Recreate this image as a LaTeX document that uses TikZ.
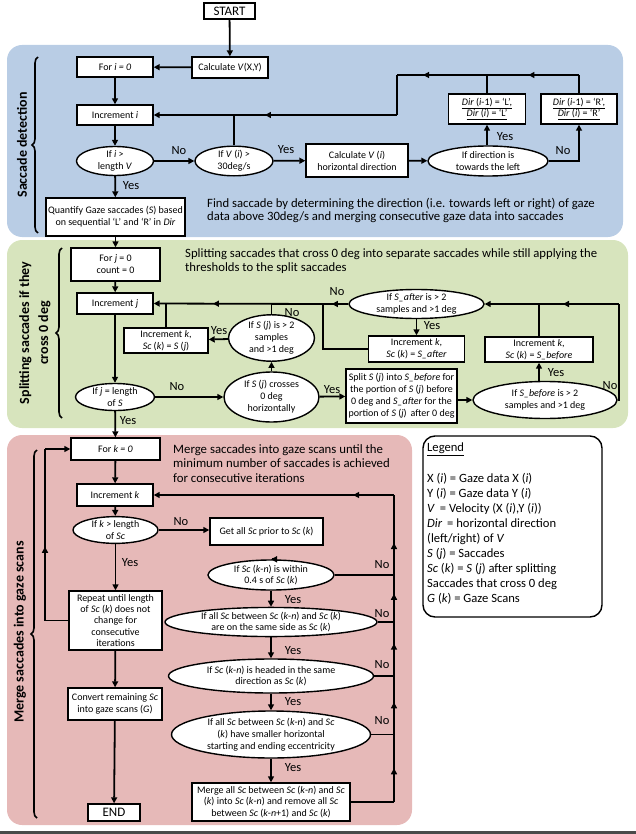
\documentclass[tikz,border=0pt]{standalone}
\usepackage{fontspec}
\setmainfont{Carlito}
\usetikzlibrary{shapes.geometric,arrows.meta,decorations.markings,decorations.pathreplacing}
\definecolor{bluebg}{HTML}{B9CDE5}
\definecolor{greenbg}{HTML}{D7E4BD}
\definecolor{pinkbg}{HTML}{E6B9B8}
\definecolor{botline}{HTML}{4A4A4A}
\newcommand\boxfont{\fontsize{10}{11.9}\selectfont}
\newcommand\lblfont{\fontsize{12.5}{14}\selectfont}
\newcommand\titlefont{\fontsize{12.7}{13.8}\selectfont}
\newcommand\ptitlefont{\fontsize{12.8}{14.6}\selectfont}
\newcommand\legfont{\fontsize{12.6}{15.1}\selectfont}
\newcommand\sidefont{\fontsize{14}{19}\selectfont\bfseries}
\newcommand\bigfont{\fontsize{13}{15}\selectfont}
\newcommand\iv[1]{\textit{#1}}
\begin{document}
\begin{tikzpicture}[x=1pt,y=-1pt,
  rbox/.style={draw, fill=white, line width=1.4pt, inner sep=0pt, align=center, font=\boxfont},
  rell/.style={ellipse, draw, fill=white, line width=1.4pt, inner sep=0pt, align=center, font=\boxfont},
  ln/.style={line width=1.8pt},
  arr/.style={line width=1.8pt, -{Triangle[length=6pt,width=6pt]}},
  midarrow/.style={postaction={decorate}, decoration={markings, mark=at position #1 with {\arrow{Triangle[length=6pt,width=6pt]}}}},
  lbl/.style={font=\lblfont, inner sep=0pt},
  ttl/.style={inner sep=0pt, align=left, anchor=west},
  brc/.style={line width=1.6pt, decorate, decoration={brace, amplitude=6pt}},
  sidelbl/.style={font=\sidefont, rotate=90, align=center, inner sep=0pt},
]
\useasboundingbox (0,0) rectangle (636,834);
% backgrounds
\fill[bluebg, rounded corners=15pt] (7,45) rectangle (623,237);
\fill[greenbg, rounded corners=15pt] (7,240) rectangle (628,428);
\fill[pinkbg, rounded corners=15pt] (7,435) rectangle (412,825);
\fill[botline] (0,831) rectangle (636,834);

% ---------------- Saccade detection ----------------
\node[rbox, font=\bigfont, minimum width=51, minimum height=16] (start) at (229.5,11) {START};
\node[rbox, minimum width=76, minimum height=21] (calcV) at (230,67.5) {Calculate \iv{V}(X,Y)};
\node[rbox, minimum width=76, minimum height=20] (fori) at (115,67) {For \iv{i = 0}};
\node[rbox, minimum width=76, minimum height=20] (inci) at (115,115) {Increment \iv{i}};
\node[rell, minimum width=77, minimum height=28] (ilen) at (115,161) {If \iv{i} >\\length \iv{V}};
\node[rell, minimum width=78, minimum height=28] (vi) at (234,161) {If \iv{V} (\iv{i}) >\\30deg/s};
\node[rbox, minimum width=102, minimum height=33] (calcdir) at (357,160.5) {Calculate \iv{V} (\iv{i})\\horizontal direction};
\node[rell, minimum width=120, minimum height=30] (left) at (488,161) {If direction is\\towards the left};
\node[rbox, minimum width=77, minimum height=30] (dirL) at (487,109) {\underline{\iv{Dir} (\iv{i}-1) = ‘L’,}\\\underline{\iv{Dir} (\iv{i}) = ‘L’}};
\node[rbox, minimum width=76, minimum height=30] (dirR) at (579,109) {\underline{\iv{Dir} (\iv{i}-1) = ‘R’,}\\\underline{\iv{Dir} (\iv{i}) = ‘R’}};
\node[rbox, minimum width=139, minimum height=38] (quant) at (115.5,217) {Quantify Gaze saccades (\iv{S}) based\\on sequential ‘L’ and ‘R’ in \iv{Dir}};
\node[ttl, font=\titlefont] (t1) at (207,210.5) {Find saccade by determining the direction (i.e. towards left or right) of gaze\\data above 30deg/s and merging consecutive gaze data into saccades};

\draw[arr] (start) -- (calcV);
\draw[arr] (calcV) -- (fori);
\draw[arr] (fori) -- (inci);
\draw[arr] (inci) -- (ilen);
\draw[arr] (ilen) -- (vi);
\draw[arr] (ilen) -- (quant);
\draw[arr] (vi) -- (calcdir);
\draw[arr] (calcdir) -- (left);
\draw[arr] (left.north -| dirL.south) -- (dirL.south);
\coordinate (b0) at (579,161);
\draw[arr] (left.east) -- (b0) -- (dirR.south);
\coordinate (b1) at (579,75);
\coordinate (b2) at (dirL.north |- b1);
\coordinate (b3) at (397,75);
\coordinate (b4) at (397,115);
\coordinate (b5) at (vi.north |- inci.east);
\draw[ln] (dirR.north) -- (b1);
\draw[ln, midarrow=0.55] (b1) -- (b2);
\draw[ln] (dirL.north) -- (b2);
\draw[ln, midarrow=0.71] (b2) -- (b3);
\draw[ln] (b3) -- (b4);
\draw[ln, midarrow=0.81] (b4) -- (b5);
\draw[arr] (b5) -- (inci.east);
\draw[ln] (vi.north) -- (b5);
\node[lbl] (n1) at (179,151) {No};
\node[lbl] (y1) at (131,186) {Yes};
\node[lbl] (y2) at (286,150) {Yes};
\node[lbl] (y3) at (505,137) {Yes};
\node[lbl] (n2) at (563,151) {No};
\draw[brc] (38,233) -- (38,57);
\node[sidelbl] (s1) at (22,145) {Saccade detection};

% ---------------- Splitting ----------------
\node[rbox, minimum width=89, minimum height=33] (forj) at (115.5,264.5) {For \iv{j} = 0\\count = 0};
\node[rbox, minimum width=76, minimum height=21] (incj) at (115,303.5) {Increment \iv{j}};
\node[rbox, minimum width=84, minimum height=25] (incSj) at (166,340.5) {Increment \iv{k},\\\iv{Sc} (\iv{k}) = \iv{S} (\iv{j})};
\node[rell, minimum width=86, minimum height=40] (sjgt) at (271.5,338) {If \iv{S} (\iv{j}) is > 2\\samples\\and >1 deg};
\node[rell, minimum width=79, minimum height=27] (jlen) at (115,397) {If \iv{j} = length\\of \iv{S}};
\node[rell, minimum width=95, minimum height=50] (cross) at (271.5,397) {If \iv{S} (\iv{j}) crosses\\0 deg\\horizontally};
\node[rbox, minimum width=111, minimum height=54] (split) at (401.5,396) {Split \iv{S} (\iv{j}) into \iv{S\_before} for\\the portion of \iv{S} (\iv{j}) before\\0 deg and \iv{S\_after} for the\\portion of \iv{S} (\iv{j})\, after 0 deg};
\node[rell, minimum width=144, minimum height=37] (sbef) at (545,400) {If \iv{S\_before} is > 2\\samples and >1 deg};
\node[rbox, minimum width=108, minimum height=25] (incbef) at (539,349.5) {Increment \iv{k},\\\iv{Sc} (\iv{k}) = \iv{S\_before}};
\node[rell, minimum width=135, minimum height=28] (saft) at (416.5,304) {If \iv{S\_after} is > 2\\samples and >1 deg};
\node[rbox, minimum width=96, minimum height=26] (incaft) at (416.5,349) {Increment \iv{k},\\\iv{Sc} (\iv{k}) = \iv{S\_after}};
\node[ttl, font=\titlefont] (t2) at (185,261) {Splitting saccades that cross 0 deg into separate saccades while still applying the\\thresholds to the split saccades};

\draw[arr] (quant) -- (forj);
\draw[arr] (forj) -- (incj);
\draw[arr] (incj) -- (jlen);
\draw[arr] (jlen) -- (cross);
\draw[arr] (cross) -- (sjgt);
\draw[arr] (sjgt) -- (incSj);
\draw[arr] (cross) -- (split);
\draw[arr] (split.east |- sbef.west) -- (sbef.west);
\draw[arr] (incbef.south |- sbef.north) -- (incbef.south);
\draw[arr] (saft) -- (incaft);
\coordinate (g1) at (323,304);
\coordinate (g2) at (619,304);
\coordinate (g3) at (619,400);
\draw[ln, midarrow=0.65] (saft.west) -- (g1);
\draw[arr, midarrow=0.65] (g1) -- (incj.east);
\draw[ln] (incaft.west) -| (g1);
\draw[ln] (sjgt.north) -- (sjgt.north |- g1);
\draw[ln] (incSj.north) -- (incSj.north |- g1);
\draw[ln] (sbef.east) -- (g3) -- (g2);
\draw[ln, midarrow=0.7] (g2) -- (incbef.north |- g2);
\draw[arr] (incbef.north |- g2) -- (saft.east);
\draw[ln] (incbef.north) -- (incbef.north |- g2);
\node[lbl] (n3) at (177,387) {No};
\node[lbl] (y4) at (219,331) {Yes};
\node[lbl] (n4) at (292,313) {No};
\node[lbl] (y5) at (332,390) {Yes};
\node[lbl] (n5) at (337,292) {No};
\node[lbl] (y6) at (432,326) {Yes};
\node[lbl] (y7) at (556,373) {Yes};
\node[lbl] (n6) at (610,386) {No};
\node[lbl] (y8) at (128,421) {Yes};
\draw[brc] (62,418) -- (62,248);
\node[sidelbl] (s2) at (35,333) {Splitting saccades if they\\cross 0 deg};

% ---------------- Merging ----------------
\node[rbox, minimum width=89, minimum height=22] (fork) at (115.5,449) {For \iv{k = 0}};
\node[rbox, minimum width=76, minimum height=22] (inck) at (115,495) {Increment \iv{k}};
\node[rell, minimum width=85, minimum height=26] (klen) at (115.5,530) {If \iv{k} > length\\of \iv{Sc}};
\node[rbox, minimum width=113, minimum height=27] (getall) at (266.5,531.5) {Get all \iv{Sc} prior to \iv{Sc} (\iv{k})};
\node[rell, minimum width=126, minimum height=30] (within) at (271,575) {If \iv{Sc} (\iv{k}-\iv{n}) is within\\0.4 s of \iv{Sc} (\iv{k})};
\node[rell, minimum width=212, minimum height=27] (sameside) at (271,622) {If all \iv{Sc} between \iv{Sc} (\iv{k}-\iv{n}) and \iv{Sc} (\iv{k})\\are on the same side as \iv{Sc} (\iv{k})};
\node[rell, minimum width=205, minimum height=34] (headed) at (271,676) {If \iv{Sc} (\iv{k}-\iv{n}) is headed in the same\\direction as \iv{Sc} (\iv{k})};
\node[rell, minimum width=199, minimum height=47] (ecc) at (271,734.5) {If all \iv{Sc} between \iv{Sc} (\iv{k}-\iv{n}) and \iv{Sc}\\(\iv{k}) have smaller horizontal\\starting and ending eccentricity};
\node[rbox, minimum width=158, minimum height=38] (merge) at (271,802) {Merge all \iv{Sc} between \iv{Sc} (\iv{k}-\iv{n}) and \iv{Sc}\\(\iv{k}) into \iv{Sc} (\iv{k}-\iv{n}) and remove all \iv{Sc}\\between \iv{Sc} (\iv{k}-\iv{n}+1) and \iv{Sc} (\iv{k})};
\node[rbox, minimum width=93, minimum height=59, font=\fontsize{10}{11.2}\selectfont] (repeat) at (115.5,620.5) {Repeat until length\\of \iv{Sc} (\iv{k}) does not\\change for\\consecutive\\iterations};
\node[rbox, minimum width=94, minimum height=32] (convert) at (115,704) {Convert remaining \iv{Sc}\\into gaze scans (\iv{G})};
\node[rbox, font=\bigfont, minimum width=52, minimum height=17] (end) at (114,812.5) {END};
\node[ttl, font=\ptitlefont] (t3) at (173,463.5) {Merge saccades into gaze scans until the\\minimum number of saccades is achieved\\for consecutive iterations};

\draw[arr] (jlen) -- (fork);
\draw[arr] (fork) -- (inck);
\draw[arr] (inck) -- (klen);
\draw[arr] (klen) -- (getall.west |- klen.east);
\draw[arr] (within.north -| 272,0) -- (within.north);
\draw[arr] (within) -- (sameside);
\draw[arr] (sameside) -- (headed);
\draw[arr] (headed) -- (ecc);
\draw[arr] (ecc) -- (merge);
\draw[arr] (klen) -- (repeat);
\draw[arr] (repeat) -- (convert);
\draw[arr] (convert) -- (end);
\coordinate (p0) at (394,495);
\coordinate (p1) at (394,575);
\coordinate (p2) at (394,622);
\coordinate (p3) at (394,676);
\coordinate (p4) at (394,734.5);
\coordinate (p5) at (394,802);
\draw[ln] (merge.east) -- (p5);
\draw[ln, midarrow=0.5] (p5) -- (p4);
\draw[ln] (ecc.east) -- (p4);
\draw[ln, midarrow=0.55] (p4) -- (p3);
\draw[ln] (headed.east) -- (p3);
\draw[ln, midarrow=0.6] (p3) -- (p2);
\draw[ln] (sameside.east) -- (p2);
\draw[ln, midarrow=0.6] (p2) -- (p1);
\draw[ln] (within.east) -- (p1);
\draw[ln, midarrow=0.4] (p1) -- (p0);
\draw[arr, midarrow=0.17] (p0) -- (inck.east);
\coordinate (k1) at (45,620.5);
\coordinate (k2) at (45,449);
\draw[ln] (repeat.west) -- (k1);
\draw[ln, midarrow=0.43] (k1) -- (k2);
\draw[arr] (k2) -- (fork.west);
\node[lbl] (n7) at (181,522) {No};
\node[lbl] (y9) at (130,563) {Yes};
\node[lbl] (y10) at (293,600) {Yes};
\node[lbl] (y11) at (293,651) {Yes};
\node[lbl] (y12) at (293,702) {Yes};
\node[lbl] (y13) at (293,768) {Yes};
\node[lbl] (n8) at (382,565) {No};
\node[lbl] (n9) at (382,614) {No};
\node[lbl] (n10) at (382,665) {No};
\node[lbl] (n11) at (382,721) {No};
\draw[brc] (37,818) -- (37,450);
\node[sidelbl] (s3) at (20,632) {Merge saccades into gaze scans};

% ---------------- Legend ----------------
\draw[line width=1.4pt, fill=white, rounded corners=12pt] (423,436) rectangle (602,617);
\node[anchor=north west, inner sep=0pt, align=left, font=\legfont] (legend) at (427,443) {\underline{Legend}\\[15.1pt]
X (\iv{i}) = Gaze data X (\iv{i})\\
Y (\iv{i}) = Gaze data Y (\iv{i})\\
\iv{V}\, = Velocity (X (\iv{i}),Y (\iv{i}))\\
\iv{Dir}\, = horizontal direction\\
(left/right) of \iv{V}\\
\iv{S} (\iv{j}) = Saccades\\
\iv{Sc} (\iv{k}) = \iv{S} (\iv{j}) after splitting\\
Saccades that cross 0 deg\\
\iv{G} (\iv{k}) = Gaze Scans};
\end{tikzpicture}
\end{document}
